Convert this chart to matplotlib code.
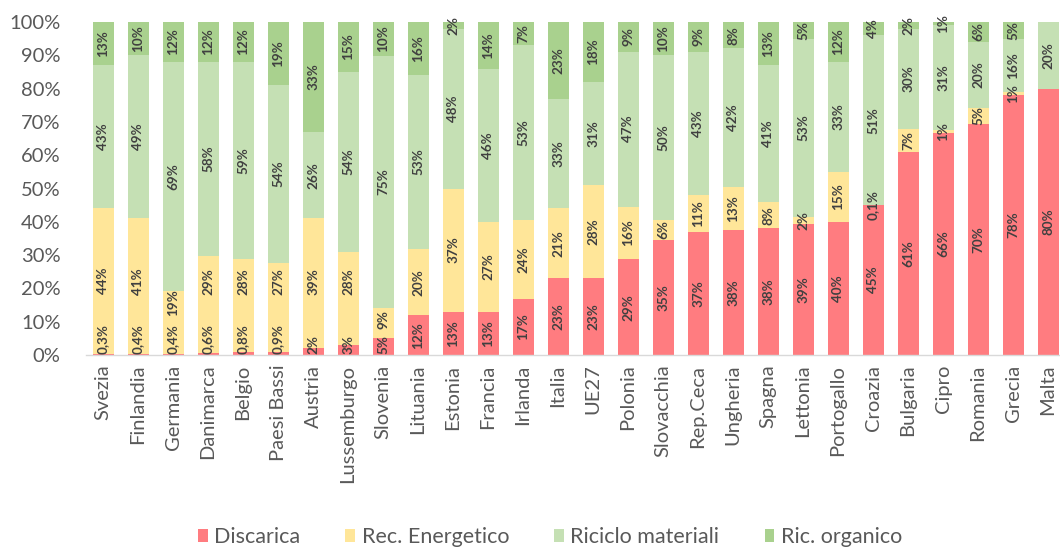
import matplotlib
matplotlib.use("Agg")
import matplotlib.pyplot as plt
from matplotlib.patches import Patch

plt.rcParams['font.family'] = ['Lato', 'DejaVu Sans']

countries = ["Svezia", "Finlandia", "Germania", "Danimarca", "Belgio", "Paesi Bassi",
             "Austria", "Lussemburgo", "Slovenia", "Lituania", "Estonia", "Francia",
             "Irlanda", "Italia", "UE27", "Polonia", "Slovacchia", "Rep.Ceca", "Ungheria",
             "Spagna", "Lettonia", "Portogallo", "Croazia", "Bulgaria", "Cipro",
             "Romania", "Grecia", "Malta"]

discarica = [0.3, 0.4, 0.4, 0.6, 0.8, 0.9, 2, 3, 5, 12, 13, 13, 17, 23, 23, 29, 35,
             37, 38, 38, 39, 40, 45, 61, 66, 70, 78, 80]
rec_energetico = [44, 41, 19, 29, 28, 27, 39, 28, 9, 20, 37, 27, 24, 21, 28, 16, 6,
                  11, 13, 8, 2, 15, 0.1, 7, 1, 5, 1, 0]
riciclo_materiali = [43, 49, 69, 58, 59, 54, 26, 54, 75, 53, 48, 46, 53, 33, 31, 47,
                     50, 43, 42, 41, 53, 33, 51, 30, 31, 20, 16, 20]
ric_organico = [13, 10, 12, 12, 12, 19, 33, 15, 10, 16, 2, 14, 7, 23, 18, 9, 10, 9,
                8, 13, 5, 12, 4, 2, 1, 6, 5, 0]

series = [("Discarica", discarica, "#FF7C80"),
          ("Rec. Energetico", rec_energetico, "#FFE699"),
          ("Riciclo materiali", riciclo_materiali, "#C5E0B4"),
          ("Ric. organico", ric_organico, "#A9D18E")]

TEXT_GREY = "#595959"
LABEL_GREY = "#404040"
LABEL_SIZE = 9.7


def fmt(v):
    if abs(v - round(v)) > 1e-9:
        return f"{v:.1f}".replace(".", ",") + "%"
    return f"{int(round(v))}%"


# 100% stacked: every country's shares are scaled to its own total
totals = [sum(s[1][i] for s in series) for i in range(len(countries))]

fig = plt.figure(figsize=(10.6, 5.49), dpi=100)
ax = fig.add_axes([85.5 / 1060, 194 / 549, (1060 - 85.5) / 1060, 333 / 549])

x = list(range(len(countries)))
bottoms = [0.0] * len(countries)
low_first = [False] * len(countries)
for si, (name, vals, color) in enumerate(series):
    heights = [v * 100.0 / t for v, t in zip(vals, totals)]
    ax.bar(x, heights, width=0.6, bottom=bottoms, color=color, edgecolor="none", zorder=2)
    for i, v in enumerate(vals):
        if v <= 0:
            continue
        ypos = bottoms[i] + heights[i] / 2
        va = "center"
        if si == 0 and v < 6:
            # tiny bottom share: label sits on the baseline
            ypos, va = 0.3, "bottom"
            low_first[i] = True
        elif si == 1 and low_first[i]:
            # lift the label clear of the baseline label below it
            top = bottoms[i] + heights[i]
            ypos = min(top - 3.5, max(ypos, 22))
        ax.text(i, ypos, fmt(v), rotation=90, ha="center", va=va,
                fontsize=LABEL_SIZE, fontweight="bold", color=LABEL_GREY, zorder=3)
    bottoms = [b + h for b, h in zip(bottoms, heights)]

ax.set_xlim(-0.5, 27.34)
ax.set_ylim(0, 100)
ax.set_yticks(range(0, 101, 10))
ax.set_yticklabels([f"{t}%" for t in range(0, 101, 10)])
ax.set_xticks(x)
ax.set_xticklabels(countries, rotation=90)

for s in ["top", "right", "left"]:
    ax.spines[s].set_visible(False)
ax.spines["bottom"].set_color("#d9d9d9")
ax.spines["bottom"].set_linewidth(1.0)
ax.spines["bottom"].set_zorder(4)

ax.tick_params(axis="y", length=0, pad=18, labelsize=14.5, labelcolor=TEXT_GREY)
ax.tick_params(axis="x", length=0, pad=7, labelsize=14.5, labelcolor=TEXT_GREY)

handles = [Patch(facecolor=c, edgecolor="none", label=n) for n, _, c in series]
fig.legend(handles=handles, loc="center", bbox_to_anchor=(550 / 1060, 1 - 537 / 549),
           ncol=4, frameon=False, fontsize=15.5, labelcolor=TEXT_GREY,
           handlelength=0.45, handleheight=0.6, handletextpad=0.3, columnspacing=2.1)

fig.savefig("out.png", dpi=100)
